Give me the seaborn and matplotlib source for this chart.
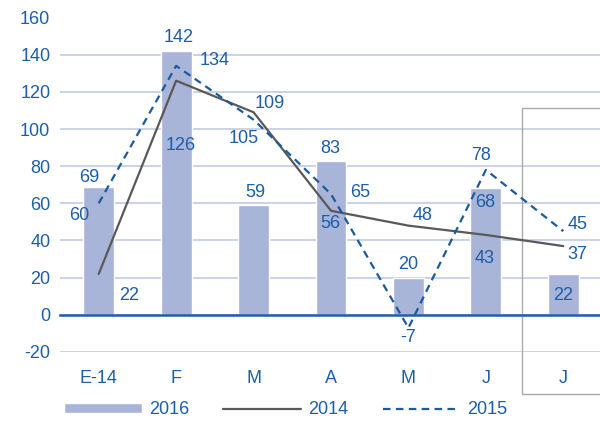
import matplotlib
matplotlib.use("Agg")
import matplotlib.pyplot as plt
import matplotlib.patches as mpatches
import seaborn as sns
import numpy as np

categories = ["E-14", "F", "M", "A", "M", "J", "J"]
v2016 = [69, 142, 59, 83, 20, 68, 22]
v2014 = [22, 126, 109, 56, 48, 43, 37]
v2015 = [60, 134, 105, 65, -7, 78, 45]
yticks = [-20, 0, 20, 40, 60, 80, 100, 120, 140, 160]

# label offsets in pixels (dx, dy) — styling only
off2016 = [(-9, 9), (2, 13), (2, 13), (-1, 12), (0, 13), (-1, -14), (0, -22)]
off2014 = [(30, -22), (5, -65), (16, 9), (-1, -13), (14, 10), (-1, -24), (14, -8)]
off2015 = [(-19, -12), (38, 5), (-10, -19), (29, 2), (0, -10), (-5, 14), (14, 7)]

BLUE_TXT = "#1d5ea8"
BAR = "#a9b4d9"
GREY = "#595959"
DASH = "#1b5a9c"
GRID = "#bcc6e3"
FS = 13

sns.set_theme(style="white")
plt.rcParams["font.family"] = ["Liberation Sans", "DejaVu Sans"]

fig = plt.figure(figsize=(6, 4.29), dpi=100)
ax = fig.add_axes([60 / 600, (429 - 352) / 429, 542 / 600, (352 - 17.5) / 429])

pos = np.arange(len(categories))
sns.barplot(x=pos, y=v2016, color=BAR, saturation=1, width=0.4, ax=ax,
            label="2016", zorder=2)
sns.lineplot(x=pos, y=v2014, color=GREY, linewidth=1.6, ax=ax, label="2014",
             zorder=3)
sns.lineplot(x=pos, y=v2015, color=DASH, linewidth=1.6, ax=ax, label="2015",
             linestyle=(0, (3.4, 2.4)), zorder=4)

ax.set_xlim(-0.5, 6.5)
ax.set_ylim(-20, 160)
ax.set_yticks(yticks)
ax.set_yticklabels([str(t) for t in yticks])
ax.yaxis.grid(True, color=GRID, linewidth=1.1, zorder=0)
ax.set_axisbelow(True)
ax.tick_params(axis="y", length=0, pad=7, labelsize=FS, labelcolor=BLUE_TXT)

for s in ["top", "right", "left"]:
    ax.spines[s].set_visible(False)
ax.spines["bottom"].set_position(("data", 0))
ax.spines["bottom"].set_color(BLUE_TXT)
ax.spines["bottom"].set_linewidth(1.8)
ax.spines["bottom"].set_zorder(5)

ax.set_xticks(np.arange(-0.5, 7.0, 1.0))
ax.set_xticklabels([])
ax.set_xticks(pos, minor=True)
ax.set_xticklabels(categories, minor=True)
ax.tick_params(axis="x", which="major", direction="out", length=3.8, width=1.5,
               color=BLUE_TXT)
ax.tick_params(axis="x", which="minor", length=0, pad=39.5, labelsize=FS,
               labelcolor=BLUE_TXT)
ax.set_xlabel("")
ax.set_ylabel("")

def annotate(vals, offs):
    for x, v, (dx, dy) in zip(pos, vals, offs):
        ax.annotate(str(v), (x, v), xytext=(dx, dy), textcoords="offset pixels",
                    ha="center", va="center", fontsize=FS, color=BLUE_TXT,
                    zorder=6, annotation_clip=False)

annotate(v2016, off2016)
annotate(v2014, off2014)
annotate(v2015, off2015)

rect = mpatches.Rectangle((5.467, -42.6), 1.2, 153.8, transform=ax.transData,
                          fill=False, edgecolor="#aaaaaa", linewidth=1.0,
                          clip_on=False, zorder=1)
ax.add_patch(rect)

handles, labels = ax.get_legend_handles_labels()
hmap = dict(zip(labels, handles))
order = ["2016", "2014", "2015"]
if ax.legend_ is not None:
    ax.legend_.remove()
fig.legend([hmap[k] for k in order], order, loc="center left",
           bbox_to_anchor=(64 / 600, 19 / 429),
           ncol=3, frameon=False, fontsize=FS, handlelength=4.3,
           handleheight=0.42, handletextpad=0.4, columnspacing=1.9,
           borderpad=0, borderaxespad=0, labelcolor=BLUE_TXT)

fig.savefig("out.png", dpi=100)
